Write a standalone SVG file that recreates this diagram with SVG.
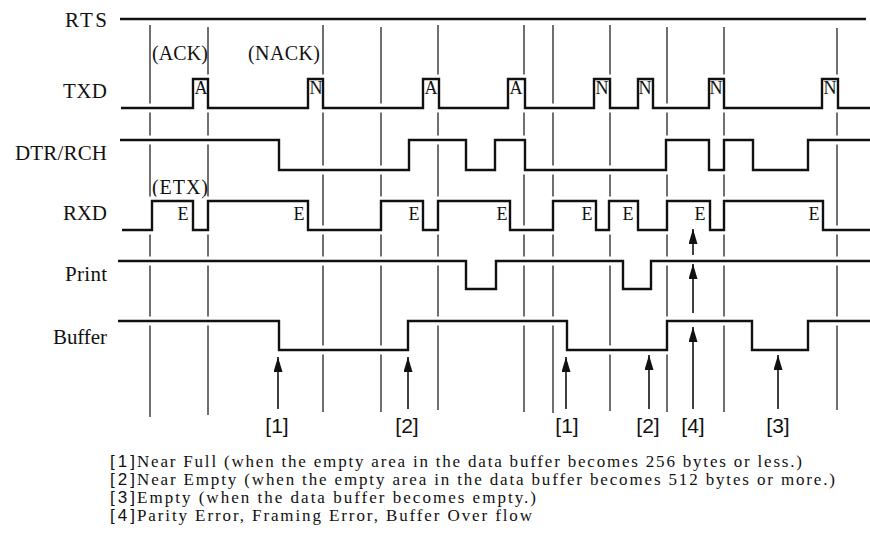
<svg xmlns="http://www.w3.org/2000/svg" xmlns:xlink="http://www.w3.org/1999/xlink" width="870" height="557" viewBox="0 0 870 557">
<style>
  .bg{fill:#fff}
  .guide{stroke:#111;stroke-width:1.2;fill:none}
  .halo{stroke:#fff;stroke-width:9;fill:none}
  .sig{stroke:#111;stroke-width:2.4;fill:none;stroke-linejoin:miter}
  .lbl{font-family:"Liberation Serif","Times New Roman",serif;font-size:21px;fill:#111}
  .note{font-family:"Liberation Serif","Times New Roman",serif;font-size:20px;fill:#111}
  .bit{font-family:"Liberation Serif","Times New Roman",serif;font-size:18px;fill:#111;text-anchor:middle}
  .mark{font-family:"Liberation Sans",Arial,sans-serif;font-size:21px;fill:#111;text-anchor:middle}
  .lmark{font-family:"Liberation Sans",Arial,sans-serif;font-size:17px;fill:#111}
  .leg{font-family:"Liberation Serif","Times New Roman",serif;font-size:17px;fill:#111}
  .arrow{stroke:#111;stroke-width:1.6;fill:none;marker-end:url(#ah)}
</style>
<defs>
  <marker id="ah" markerUnits="userSpaceOnUse" viewBox="0 0 15 9" markerWidth="15" markerHeight="9" refX="15" refY="4.5" orient="auto">
    <path d="M0,0 L15,4.5 L0,9 Z" fill="#111"/>
  </marker>
  <path id="p-rts" d="M120,19 H866"/>
  <path id="p-txd" d="M121,108 H193 V79 H208 V108 H308 V79 H323 V108 H423 V79 H439 V108 H508 V79 H525 V108 H594 V79 H610 V108 H638 V79 H653 V108 H709 V79 H724 V108 H822 V79 H838 V108 H870"/>
  <path id="p-dtr" d="M120,140 H279 V170 H409 V140 H466 V170 H495 V140 H525 V170 H666 V140 H709 V170 H724 V140 H753 V170 H808 V140 H870"/>
  <path id="p-rxd" d="M122,230 H152 V201 H193 V230 H208 V201 H308 V230 H381 V201 H423 V230 H438 V201 H510 V230 H553 V201 H596 V230 H609 V201 H638 V230 H667 V201 H710 V230 H724 V201 H823 V230 H870"/>
  <path id="p-print" d="M118,261 H466 V289 H496 V261 H623 V289 H651 V261 H870"/>
  <path id="p-buf" d="M118,321 H279 V350 H408 V321 H567 V350 H667 V321 H752 V350 H808 V321 H870"/>
</defs>
<rect class="bg" x="0" y="0" width="870" height="557"/>

<g id="guides">
  <path class="guide" d="M150,25 V417 M208,27 V415 M323,25 V412 M381,27 V412 M438,25 V410 M524,25 V412 M553,25 V413 M610,25 V411 M667,27 V412 M724,27 V412 M837,28 V410"/>
</g>

<g id="RTS">
  <text class="lbl" x="65" y="27" textLength="42" lengthAdjust="spacing">RTS</text>
  <use href="#p-rts" class="halo"/>
  <use href="#p-rts" class="sig"/>
</g>

<g id="TXD">
  <text class="lbl" x="63" y="98" textLength="44" lengthAdjust="spacing">TXD</text>
  <text class="note" x="152" y="60" textLength="56" lengthAdjust="spacing">(ACK)</text>
  <text class="note" x="248" y="60" textLength="72" lengthAdjust="spacing">(NACK)</text>
  <use href="#p-txd" class="halo"/>
  <use href="#p-txd" class="sig"/>
  <text class="bit" x="201" y="94">A</text>
  <text class="bit" x="316" y="94">N</text>
  <text class="bit" x="431" y="94">A</text>
  <text class="bit" x="516" y="94">A</text>
  <text class="bit" x="602" y="94">N</text>
  <text class="bit" x="645" y="94">N</text>
  <text class="bit" x="716" y="94">N</text>
  <text class="bit" x="830" y="94">N</text>
</g>

<g id="DTR-RCH">
  <text class="lbl" x="15" y="160" textLength="92" lengthAdjust="spacing">DTR/RCH</text>
  <use href="#p-dtr" class="halo"/>
  <use href="#p-dtr" class="sig"/>
</g>

<g id="RXD">
  <text class="lbl" x="63" y="220" textLength="44" lengthAdjust="spacing">RXD</text>
  <text class="note" x="152" y="194" textLength="56" lengthAdjust="spacing">(ETX)</text>
  <use href="#p-rxd" class="halo"/>
  <use href="#p-rxd" class="sig"/>
  <text class="bit" x="183" y="220">E</text>
  <text class="bit" x="299" y="220">E</text>
  <text class="bit" x="414" y="220">E</text>
  <text class="bit" x="502" y="220">E</text>
  <text class="bit" x="587" y="220">E</text>
  <text class="bit" x="628" y="220">E</text>
  <text class="bit" x="700" y="220">E</text>
  <text class="bit" x="814" y="220">E</text>
</g>

<g id="Print">
  <text class="lbl" x="65" y="281" textLength="42" lengthAdjust="spacing">Print</text>
  <use href="#p-print" class="halo"/>
  <use href="#p-print" class="sig"/>
</g>

<g id="Buffer">
  <text class="lbl" x="53" y="344" textLength="54" lengthAdjust="spacing">Buffer</text>
  <use href="#p-buf" class="halo"/>
  <use href="#p-buf" class="sig"/>
</g>

<g id="connectors">
  <line class="arrow" x1="278" y1="409" x2="278" y2="357"/>
  <line class="arrow" x1="408" y1="409" x2="408" y2="357"/>
  <line class="arrow" x1="566" y1="409" x2="566" y2="357"/>
  <line class="arrow" x1="649" y1="409" x2="649" y2="355"/>
  <line class="arrow" x1="693" y1="409" x2="693" y2="327"/>
  <line class="arrow" x1="693" y1="313" x2="693" y2="264"/>
  <line class="arrow" x1="693" y1="255" x2="693" y2="229"/>
  <line class="arrow" x1="778" y1="409" x2="778" y2="355"/>
</g>

<g id="markers">
  <text class="mark" x="277" y="433">[1]</text>
  <text class="mark" x="407" y="433">[2]</text>
  <text class="mark" x="567" y="433">[1]</text>
  <text class="mark" x="648" y="433">[2]</text>
  <text class="mark" x="693" y="433">[4]</text>
  <text class="mark" x="778" y="433">[3]</text>
</g>

<g id="legend">
  <text class="lmark" x="110" y="467" textLength="25" lengthAdjust="spacing">[1]</text>
  <text class="leg" x="137" y="467" textLength="665" lengthAdjust="spacing">Near Full (when the empty area in the data buffer becomes 256 bytes or less.)</text>
  <text class="lmark" x="110" y="485" textLength="25" lengthAdjust="spacing">[2]</text>
  <text class="leg" x="137" y="485" textLength="698" lengthAdjust="spacing">Near Empty (when the empty area in the data buffer becomes 512 bytes or more.)</text>
  <text class="lmark" x="110" y="503" textLength="25" lengthAdjust="spacing">[3]</text>
  <text class="leg" x="137" y="503" textLength="399" lengthAdjust="spacing">Empty (when the data buffer becomes empty.)</text>
  <text class="lmark" x="110" y="521" textLength="25" lengthAdjust="spacing">[4]</text>
  <text class="leg" x="137" y="521" textLength="395" lengthAdjust="spacing">Parity Error, Framing Error, Buffer Over flow</text>
</g>
</svg>
